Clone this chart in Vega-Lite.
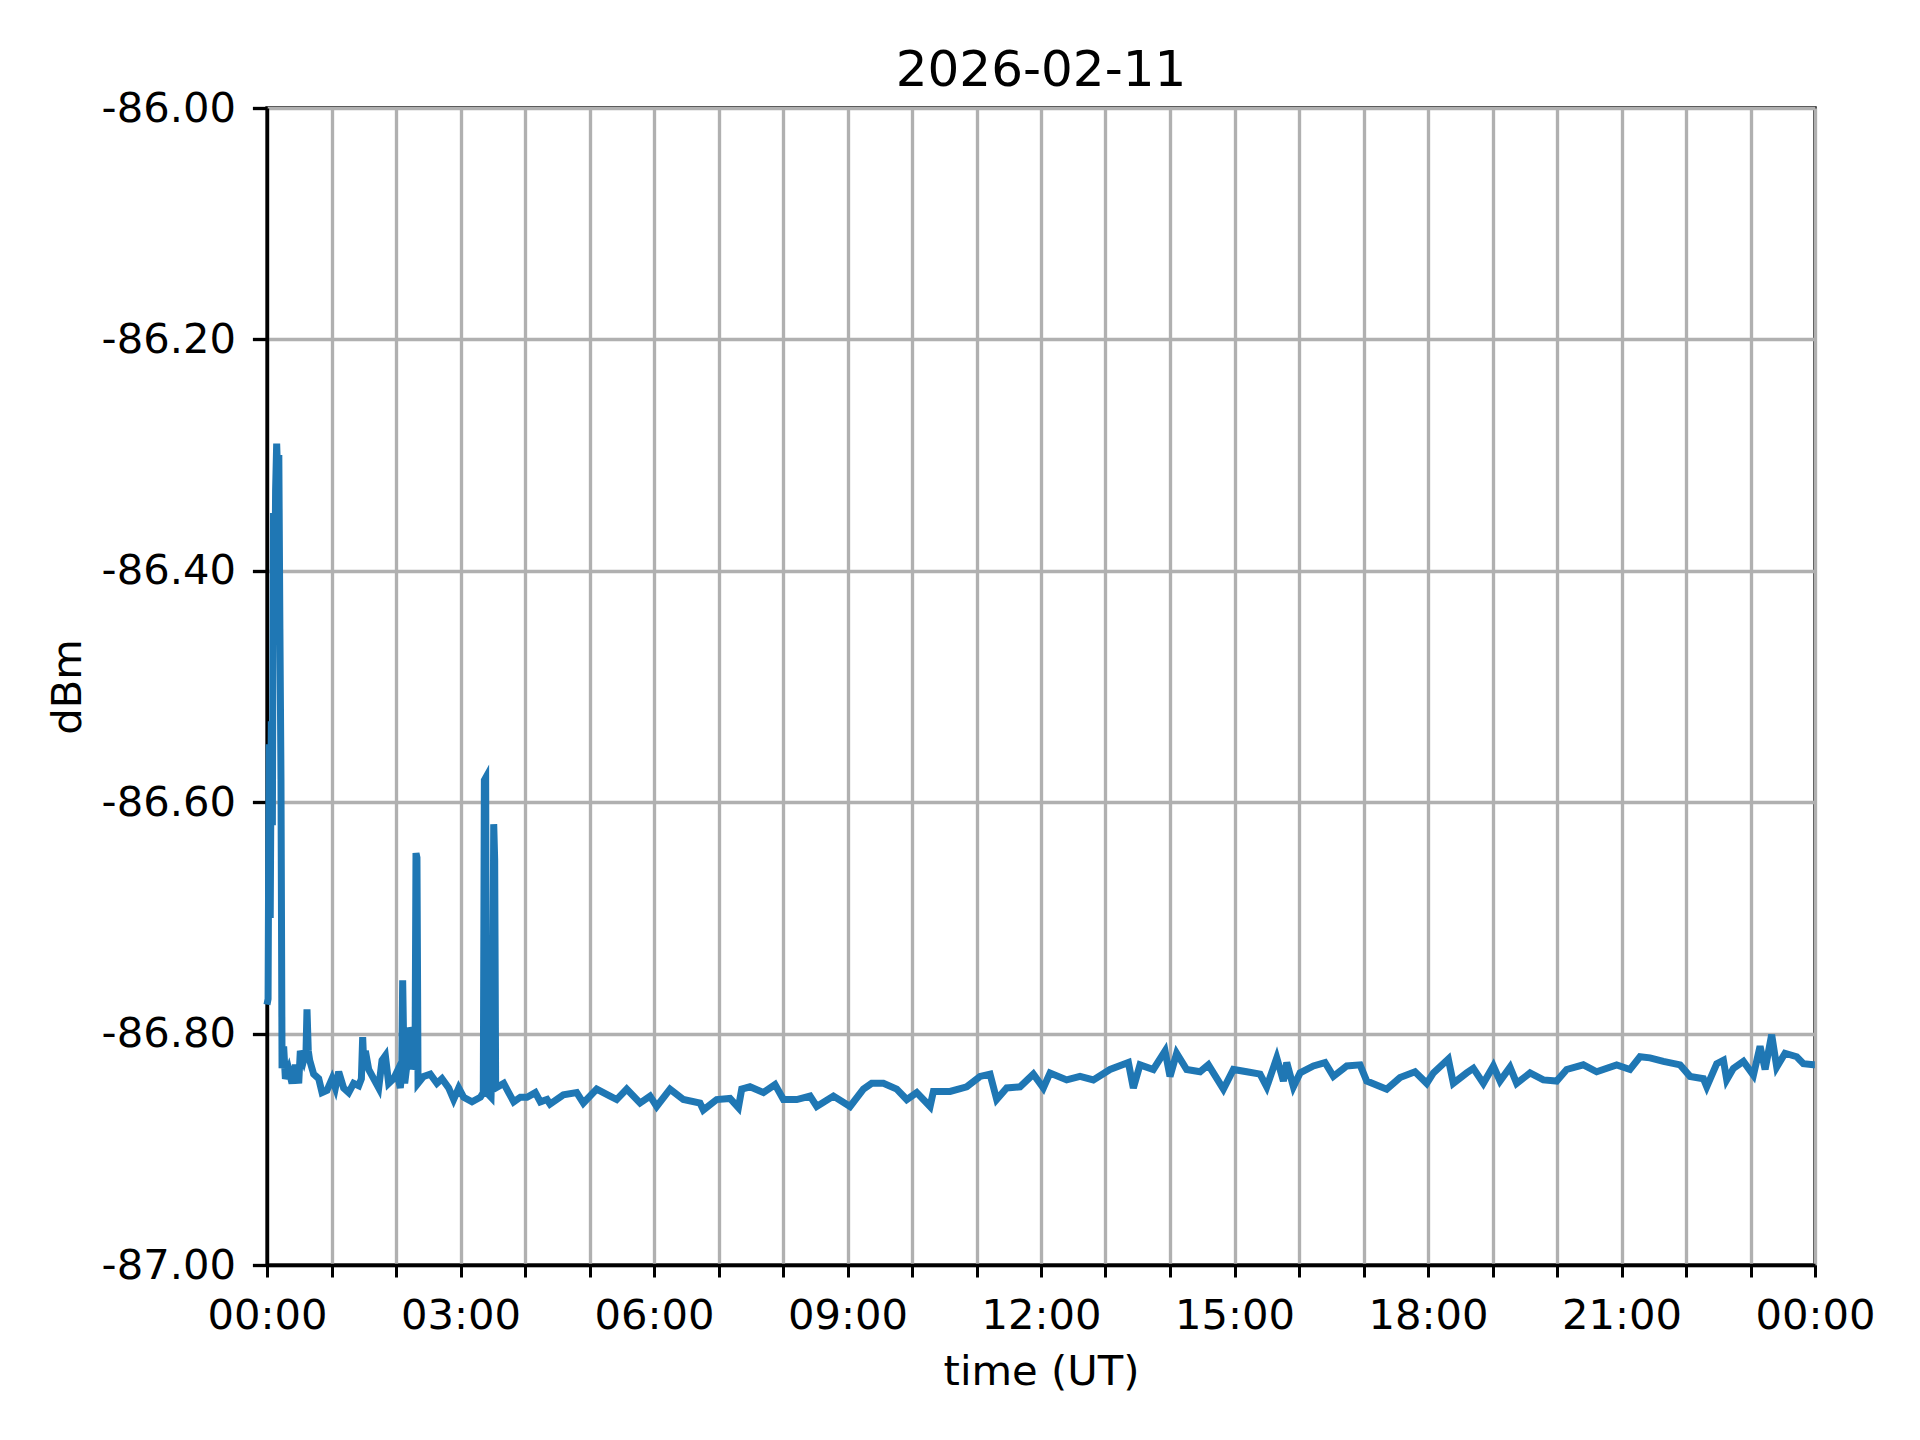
{
  "$schema": "https://vega.github.io/schema/vega-lite/v6.json",
  "width": 1548,
  "height": 1157,
  "autosize": {"type": "none"},
  "padding": {"left": 267, "top": 108, "right": 105, "bottom": 175},
  "background": "white",
  "config": {"view": {"stroke": "black", "strokeWidth": 3.33}},
  "title": {"text": "2026-02-11", "fontSize": 50, "font": "DejaVu Sans", "fontWeight": "normal", "color": "black", "offset": -8},
  "data": {"values": [
    {"t": "2026-02-11T00:00:00Z", "dBm": -86.775},
    {"t": "2026-02-11T00:01:00Z", "dBm": -86.77},
    {"t": "2026-02-11T00:02:00Z", "dBm": -86.55},
    {"t": "2026-02-11T00:03:00Z", "dBm": -86.70},
    {"t": "2026-02-11T00:04:00Z", "dBm": -86.53},
    {"t": "2026-02-11T00:05:00Z", "dBm": -86.62},
    {"t": "2026-02-11T00:06:00Z", "dBm": -86.35},
    {"t": "2026-02-11T00:07:00Z", "dBm": -86.45},
    {"t": "2026-02-11T00:08:00Z", "dBm": -86.33},
    {"t": "2026-02-11T00:09:00Z", "dBm": -86.29},
    {"t": "2026-02-11T00:10:00Z", "dBm": -86.32},
    {"t": "2026-02-11T00:11:00Z", "dBm": -86.30},
    {"t": "2026-02-11T00:12:00Z", "dBm": -86.45},
    {"t": "2026-02-11T00:13:00Z", "dBm": -86.58},
    {"t": "2026-02-11T00:14:00Z", "dBm": -86.83},
    {"t": "2026-02-11T00:15:30Z", "dBm": -86.811},
    {"t": "2026-02-11T00:17:06Z", "dBm": -86.839},
    {"t": "2026-02-11T00:20:12Z", "dBm": -86.831},
    {"t": "2026-02-11T00:23:18Z", "dBm": -86.843},
    {"t": "2026-02-11T00:26:24Z", "dBm": -86.827},
    {"t": "2026-02-11T00:29:30Z", "dBm": -86.843},
    {"t": "2026-02-11T00:31:00Z", "dBm": -86.815},
    {"t": "2026-02-11T00:34:06Z", "dBm": -86.823},
    {"t": "2026-02-11T00:36:18Z", "dBm": -86.815},
    {"t": "2026-02-11T00:37:12Z", "dBm": -86.779},
    {"t": "2026-02-11T00:38:24Z", "dBm": -86.815},
    {"t": "2026-02-11T00:39:42Z", "dBm": -86.823},
    {"t": "2026-02-11T00:43:24Z", "dBm": -86.835},
    {"t": "2026-02-11T00:48:06Z", "dBm": -86.839},
    {"t": "2026-02-11T00:51:12Z", "dBm": -86.851},
    {"t": "2026-02-11T00:55:48Z", "dBm": -86.849},
    {"t": "2026-02-11T01:00:30Z", "dBm": -86.839},
    {"t": "2026-02-11T01:03:36Z", "dBm": -86.847},
    {"t": "2026-02-11T01:06:42Z", "dBm": -86.833},
    {"t": "2026-02-11T01:11:18Z", "dBm": -86.847},
    {"t": "2026-02-11T01:16:00Z", "dBm": -86.851},
    {"t": "2026-02-11T01:20:36Z", "dBm": -86.843},
    {"t": "2026-02-11T01:25:18Z", "dBm": -86.845},
    {"t": "2026-02-11T01:27:48Z", "dBm": -86.839},
    {"t": "2026-02-11T01:29:00Z", "dBm": -86.803},
    {"t": "2026-02-11T01:30:12Z", "dBm": -86.831},
    {"t": "2026-02-11T01:31:30Z", "dBm": -86.815},
    {"t": "2026-02-11T01:34:36Z", "dBm": -86.831},
    {"t": "2026-02-11T01:39:12Z", "dBm": -86.839},
    {"t": "2026-02-11T01:43:54Z", "dBm": -86.847},
    {"t": "2026-02-11T01:47:00Z", "dBm": -86.823},
    {"t": "2026-02-11T01:50:06Z", "dBm": -86.819},
    {"t": "2026-02-11T01:53:12Z", "dBm": -86.843},
    {"t": "2026-02-11T01:57:48Z", "dBm": -86.839},
    {"t": "2026-02-11T02:00:54Z", "dBm": -86.833},
    {"t": "2026-02-11T02:04:00Z", "dBm": -86.847},
    {"t": "2026-02-11T02:05:18Z", "dBm": -86.835},
    {"t": "2026-02-11T02:06:12Z", "dBm": -86.754},
    {"t": "2026-02-11T02:07:06Z", "dBm": -86.807},
    {"t": "2026-02-11T02:08:06Z", "dBm": -86.843},
    {"t": "2026-02-11T02:10:12Z", "dBm": -86.827},
    {"t": "2026-02-11T02:12:42Z", "dBm": -86.795},
    {"t": "2026-02-11T02:14:18Z", "dBm": -86.799},
    {"t": "2026-02-11T02:15:30Z", "dBm": -86.831},
    {"t": "2026-02-11T02:17:42Z", "dBm": -86.823},
    {"t": "2026-02-11T02:18:36Z", "dBm": -86.644},
    {"t": "2026-02-11T02:19:30Z", "dBm": -86.648},
    {"t": "2026-02-11T02:20:30Z", "dBm": -86.843},
    {"t": "2026-02-11T02:25:42Z", "dBm": -86.837},
    {"t": "2026-02-11T02:31:54Z", "dBm": -86.835},
    {"t": "2026-02-11T02:38:06Z", "dBm": -86.843},
    {"t": "2026-02-11T02:42:48Z", "dBm": -86.839},
    {"t": "2026-02-11T02:49:00Z", "dBm": -86.847},
    {"t": "2026-02-11T02:53:36Z", "dBm": -86.857},
    {"t": "2026-02-11T02:58:18Z", "dBm": -86.847},
    {"t": "2026-02-11T03:02:54Z", "dBm": -86.855},
    {"t": "2026-02-11T03:10:42Z", "dBm": -86.859},
    {"t": "2026-02-11T03:18:30Z", "dBm": -86.855},
    {"t": "2026-02-11T03:21:12Z", "dBm": -86.851},
    {"t": "2026-02-11T03:22:12Z", "dBm": -86.581},
    {"t": "2026-02-11T03:23:24Z", "dBm": -86.579},
    {"t": "2026-02-11T03:24:18Z", "dBm": -86.851},
    {"t": "2026-02-11T03:28:24Z", "dBm": -86.855},
    {"t": "2026-02-11T03:29:54Z", "dBm": -86.80},
    {"t": "2026-02-11T03:30:54Z", "dBm": -86.619},
    {"t": "2026-02-11T03:31:48Z", "dBm": -86.65},
    {"t": "2026-02-11T03:32:42Z", "dBm": -86.847},
    {"t": "2026-02-11T03:40:12Z", "dBm": -86.843},
    {"t": "2026-02-11T03:44:48Z", "dBm": -86.851},
    {"t": "2026-02-11T03:49:30Z", "dBm": -86.859},
    {"t": "2026-02-11T03:55:42Z", "dBm": -86.855},
    {"t": "2026-02-11T04:01:54Z", "dBm": -86.855},
    {"t": "2026-02-11T04:09:36Z", "dBm": -86.851},
    {"t": "2026-02-11T04:14:18Z", "dBm": -86.859},
    {"t": "2026-02-11T04:20:30Z", "dBm": -86.857},
    {"t": "2026-02-11T04:23:18Z", "dBm": -86.861},
    {"t": "2026-02-11T04:35:42Z", "dBm": -86.853},
    {"t": "2026-02-11T04:48:06Z", "dBm": -86.851},
    {"t": "2026-02-11T04:54:18Z", "dBm": -86.860},
    {"t": "2026-02-11T05:06:42Z", "dBm": -86.848},
    {"t": "2026-02-11T05:19:06Z", "dBm": -86.854},
    {"t": "2026-02-11T05:25:18Z", "dBm": -86.857},
    {"t": "2026-02-11T05:34:36Z", "dBm": -86.848},
    {"t": "2026-02-11T05:47:00Z", "dBm": -86.860},
    {"t": "2026-02-11T05:56:18Z", "dBm": -86.854},
    {"t": "2026-02-11T06:02:30Z", "dBm": -86.863},
    {"t": "2026-02-11T06:14:54Z", "dBm": -86.848},
    {"t": "2026-02-11T06:27:18Z", "dBm": -86.857},
    {"t": "2026-02-11T06:42:48Z", "dBm": -86.860},
    {"t": "2026-02-11T06:45:54Z", "dBm": -86.866},
    {"t": "2026-02-11T06:58:18Z", "dBm": -86.857},
    {"t": "2026-02-11T07:10:42Z", "dBm": -86.856},
    {"t": "2026-02-11T07:18:30Z", "dBm": -86.864},
    {"t": "2026-02-11T07:21:36Z", "dBm": -86.848},
    {"t": "2026-02-11T07:29:18Z", "dBm": -86.846},
    {"t": "2026-02-11T07:41:48Z", "dBm": -86.851},
    {"t": "2026-02-11T07:52:36Z", "dBm": -86.844},
    {"t": "2026-02-11T08:00:24Z", "dBm": -86.857},
    {"t": "2026-02-11T08:12:48Z", "dBm": -86.857},
    {"t": "2026-02-11T08:25:12Z", "dBm": -86.854},
    {"t": "2026-02-11T08:31:24Z", "dBm": -86.863},
    {"t": "2026-02-11T08:46:54Z", "dBm": -86.854},
    {"t": "2026-02-11T09:02:24Z", "dBm": -86.863},
    {"t": "2026-02-11T09:14:48Z", "dBm": -86.848},
    {"t": "2026-02-11T09:22:30Z", "dBm": -86.843},
    {"t": "2026-02-11T09:33:24Z", "dBm": -86.843},
    {"t": "2026-02-11T09:45:48Z", "dBm": -86.848},
    {"t": "2026-02-11T09:55:06Z", "dBm": -86.857},
    {"t": "2026-02-11T10:04:24Z", "dBm": -86.851},
    {"t": "2026-02-11T10:16:48Z", "dBm": -86.863},
    {"t": "2026-02-11T10:19:54Z", "dBm": -86.850},
    {"t": "2026-02-11T10:35:24Z", "dBm": -86.850},
    {"t": "2026-02-11T10:50:54Z", "dBm": -86.846},
    {"t": "2026-02-11T11:03:18Z", "dBm": -86.837},
    {"t": "2026-02-11T11:12:36Z", "dBm": -86.835},
    {"t": "2026-02-11T11:18:48Z", "dBm": -86.857},
    {"t": "2026-02-11T11:28:06Z", "dBm": -86.847},
    {"t": "2026-02-11T11:40:30Z", "dBm": -86.846},
    {"t": "2026-02-11T11:52:54Z", "dBm": -86.835},
    {"t": "2026-02-11T12:02:12Z", "dBm": -86.847},
    {"t": "2026-02-11T12:08:24Z", "dBm": -86.834},
    {"t": "2026-02-11T12:23:54Z", "dBm": -86.840},
    {"t": "2026-02-11T12:36:18Z", "dBm": -86.837},
    {"t": "2026-02-11T12:48:42Z", "dBm": -86.840},
    {"t": "2026-02-11T13:04:12Z", "dBm": -86.831},
    {"t": "2026-02-11T13:21:18Z", "dBm": -86.825},
    {"t": "2026-02-11T13:25:54Z", "dBm": -86.847},
    {"t": "2026-02-11T13:32:06Z", "dBm": -86.827},
    {"t": "2026-02-11T13:44:30Z", "dBm": -86.831},
    {"t": "2026-02-11T13:55:24Z", "dBm": -86.815},
    {"t": "2026-02-11T14:00:00Z", "dBm": -86.837},
    {"t": "2026-02-11T14:06:12Z", "dBm": -86.817},
    {"t": "2026-02-11T14:15:30Z", "dBm": -86.831},
    {"t": "2026-02-11T14:28:00Z", "dBm": -86.833},
    {"t": "2026-02-11T14:35:42Z", "dBm": -86.827},
    {"t": "2026-02-11T14:49:42Z", "dBm": -86.848},
    {"t": "2026-02-11T14:59:00Z", "dBm": -86.831},
    {"t": "2026-02-11T15:11:24Z", "dBm": -86.833},
    {"t": "2026-02-11T15:23:48Z", "dBm": -86.835},
    {"t": "2026-02-11T15:30:00Z", "dBm": -86.846},
    {"t": "2026-02-11T15:39:18Z", "dBm": -86.821},
    {"t": "2026-02-11T15:45:30Z", "dBm": -86.841},
    {"t": "2026-02-11T15:48:36Z", "dBm": -86.825},
    {"t": "2026-02-11T15:54:48Z", "dBm": -86.846},
    {"t": "2026-02-11T16:01:00Z", "dBm": -86.834},
    {"t": "2026-02-11T16:13:24Z", "dBm": -86.828},
    {"t": "2026-02-11T16:24:12Z", "dBm": -86.825},
    {"t": "2026-02-11T16:32:00Z", "dBm": -86.837},
    {"t": "2026-02-11T16:44:24Z", "dBm": -86.828},
    {"t": "2026-02-11T16:56:48Z", "dBm": -86.827},
    {"t": "2026-02-11T17:03:00Z", "dBm": -86.841},
    {"t": "2026-02-11T17:21:36Z", "dBm": -86.848},
    {"t": "2026-02-11T17:34:00Z", "dBm": -86.838},
    {"t": "2026-02-11T17:47:54Z", "dBm": -86.833},
    {"t": "2026-02-11T17:58:48Z", "dBm": -86.843},
    {"t": "2026-02-11T18:05:00Z", "dBm": -86.834},
    {"t": "2026-02-11T18:18:54Z", "dBm": -86.822},
    {"t": "2026-02-11T18:23:36Z", "dBm": -86.843},
    {"t": "2026-02-11T18:36:00Z", "dBm": -86.834},
    {"t": "2026-02-11T18:42:12Z", "dBm": -86.830},
    {"t": "2026-02-11T18:51:30Z", "dBm": -86.843},
    {"t": "2026-02-11T19:00:48Z", "dBm": -86.828},
    {"t": "2026-02-11T19:07:00Z", "dBm": -86.841},
    {"t": "2026-02-11T19:16:18Z", "dBm": -86.829},
    {"t": "2026-02-11T19:22:30Z", "dBm": -86.843},
    {"t": "2026-02-11T19:34:54Z", "dBm": -86.834},
    {"t": "2026-02-11T19:47:18Z", "dBm": -86.840},
    {"t": "2026-02-11T19:59:42Z", "dBm": -86.841},
    {"t": "2026-02-11T20:09:00Z", "dBm": -86.831},
    {"t": "2026-02-11T20:24:30Z", "dBm": -86.827},
    {"t": "2026-02-11T20:36:54Z", "dBm": -86.833},
    {"t": "2026-02-11T20:55:30Z", "dBm": -86.827},
    {"t": "2026-02-11T21:07:54Z", "dBm": -86.831},
    {"t": "2026-02-11T21:17:12Z", "dBm": -86.820},
    {"t": "2026-02-11T21:26:30Z", "dBm": -86.821},
    {"t": "2026-02-11T21:39:00Z", "dBm": -86.824},
    {"t": "2026-02-11T21:54:30Z", "dBm": -86.827},
    {"t": "2026-02-11T22:03:48Z", "dBm": -86.837},
    {"t": "2026-02-11T22:16:12Z", "dBm": -86.839},
    {"t": "2026-02-11T22:19:18Z", "dBm": -86.846},
    {"t": "2026-02-11T22:28:36Z", "dBm": -86.826},
    {"t": "2026-02-11T22:34:48Z", "dBm": -86.823},
    {"t": "2026-02-11T22:37:54Z", "dBm": -86.840},
    {"t": "2026-02-11T22:44:06Z", "dBm": -86.830},
    {"t": "2026-02-11T22:53:24Z", "dBm": -86.824},
    {"t": "2026-02-11T23:02:42Z", "dBm": -86.836},
    {"t": "2026-02-11T23:08:54Z", "dBm": -86.811},
    {"t": "2026-02-11T23:13:36Z", "dBm": -86.831},
    {"t": "2026-02-11T23:19:42Z", "dBm": -86.801},
    {"t": "2026-02-11T23:24:24Z", "dBm": -86.829},
    {"t": "2026-02-11T23:32:06Z", "dBm": -86.817},
    {"t": "2026-02-11T23:43:00Z", "dBm": -86.820},
    {"t": "2026-02-11T23:49:12Z", "dBm": -86.826},
    {"t": "2026-02-11T23:58:30Z", "dBm": -86.827},
    {"t": "2026-02-11T23:59:50Z", "dBm": -86.827}
  ]},
  "mark": {"type": "line", "color": "#1f77b4", "strokeWidth": 7},
  "encoding": {
    "x": {
      "field": "t",
      "type": "temporal",
      "scale": {"type": "utc", "domain": [{"year": 2026, "month": 2, "date": 11, "utc": true}, {"year": 2026, "month": 2, "date": 12, "utc": true}], "nice": false},
      "axis": {
        "title": "time (UT)",
        "values": [
          {"year": 2026, "month": 2, "date": 11, "hours": 0, "utc": true},
          {"year": 2026, "month": 2, "date": 11, "hours": 1, "utc": true},
          {"year": 2026, "month": 2, "date": 11, "hours": 2, "utc": true},
          {"year": 2026, "month": 2, "date": 11, "hours": 3, "utc": true},
          {"year": 2026, "month": 2, "date": 11, "hours": 4, "utc": true},
          {"year": 2026, "month": 2, "date": 11, "hours": 5, "utc": true},
          {"year": 2026, "month": 2, "date": 11, "hours": 6, "utc": true},
          {"year": 2026, "month": 2, "date": 11, "hours": 7, "utc": true},
          {"year": 2026, "month": 2, "date": 11, "hours": 8, "utc": true},
          {"year": 2026, "month": 2, "date": 11, "hours": 9, "utc": true},
          {"year": 2026, "month": 2, "date": 11, "hours": 10, "utc": true},
          {"year": 2026, "month": 2, "date": 11, "hours": 11, "utc": true},
          {"year": 2026, "month": 2, "date": 11, "hours": 12, "utc": true},
          {"year": 2026, "month": 2, "date": 11, "hours": 13, "utc": true},
          {"year": 2026, "month": 2, "date": 11, "hours": 14, "utc": true},
          {"year": 2026, "month": 2, "date": 11, "hours": 15, "utc": true},
          {"year": 2026, "month": 2, "date": 11, "hours": 16, "utc": true},
          {"year": 2026, "month": 2, "date": 11, "hours": 17, "utc": true},
          {"year": 2026, "month": 2, "date": 11, "hours": 18, "utc": true},
          {"year": 2026, "month": 2, "date": 11, "hours": 19, "utc": true},
          {"year": 2026, "month": 2, "date": 11, "hours": 20, "utc": true},
          {"year": 2026, "month": 2, "date": 11, "hours": 21, "utc": true},
          {"year": 2026, "month": 2, "date": 11, "hours": 22, "utc": true},
          {"year": 2026, "month": 2, "date": 11, "hours": 23, "utc": true},
          {"year": 2026, "month": 2, "date": 12, "hours": 0, "utc": true}
        ],
        "labelExpr": "utchours(datum.value) % 3 == 0 ? utcFormat(datum.value, '%H:%M') : ''",
        "labelOverlap": false,
        "labelFlush": false,
        "gridColor": "#b0b0b0",
        "gridWidth": 3.33,
        "domainColor": "black",
        "domainWidth": 3.33,
        "tickColor": "black",
        "tickSize": 12,
        "tickWidth": 3,
        "labelFontSize": 41.67,
        "labelFont": "DejaVu Sans",
        "labelColor": "black",
        "labelPadding": 18.6,
        "titleFontSize": 41.67,
        "titleFont": "DejaVu Sans",
        "titleFontWeight": "normal",
        "titleColor": "black",
        "titlePadding": 14
      }
    },
    "y": {
      "field": "dBm",
      "type": "quantitative",
      "scale": {"domain": [-87, -86], "nice": false, "zero": false},
      "axis": {
        "title": "dBm",
        "values": [-87, -86.8, -86.6, -86.4, -86.2, -86],
        "labelExpr": "replace(format(datum.value, '.2f'), '\u2212', '-')",
        "gridColor": "#b0b0b0",
        "gridWidth": 3.33,
        "domainColor": "black",
        "domainWidth": 3.33,
        "tickColor": "black",
        "tickSize": 14.6,
        "tickWidth": 3.33,
        "labelFontSize": 41.67,
        "labelFont": "DejaVu Sans",
        "labelColor": "black",
        "labelPadding": 17,
        "titleFontSize": 41.67,
        "titleFont": "DejaVu Sans",
        "titleFontWeight": "normal",
        "titleColor": "black",
        "titlePadding": 12
      }
    }
  }
}
